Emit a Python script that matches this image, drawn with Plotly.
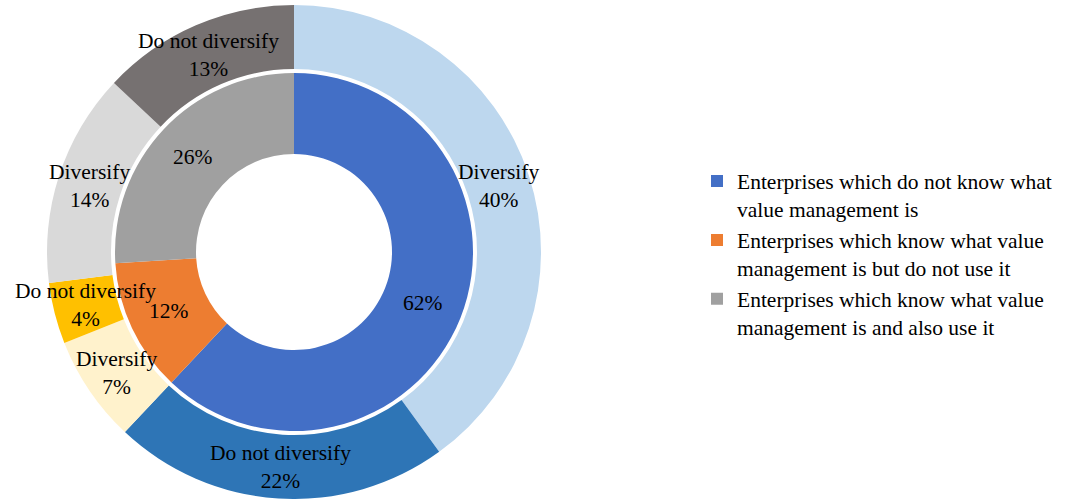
import math
import plotly.graph_objects as go

# ---------------- data ----------------
inner_labels = [
    "Enterprises which do not know what<br>value management is",
    "Enterprises which know what value<br>management is but do not use it",
    "Enterprises which know what value<br>management is and also use it",
]
inner_values = [62, 12, 26]

outer_labels = ["Diversify", "Do not diversify", "Diversify",
                "Do not diversify", "Diversify", "Do not diversify"]
outer_values = [40, 22, 7, 4, 14, 13]

# ---------------- styles ----------------
inner_colors = ["#436FC6", "#ED7D31", "#A0A0A0"]
outer_colors = ["#BDD7EE", "#2E75B6", "#FFF2CC", "#FFC000", "#D9D9D9", "#767171"]

W, H = 1065, 499
CX, CY = 294, 252            # pie centre in px (from top-left)
CYB = H - CY                 # centre measured from bottom
R_OUT, R_OUT_HOLE = 247, 183
R_IN, R_IN_HOLE = 179, 98
FONT = "Liberation Serif, Times New Roman, serif"
FS = 21.5
LFS = 21.5


def dom(r):
    return dict(x=[(CX - r) / W, (CX + r) / W], y=[(CYB - r) / H, (CYB + r) / H])


fig = go.Figure()
fig.add_trace(go.Pie(
    labels=[f"o{i}" for i in range(len(outer_values))],
    values=outer_values,
    domain=dom(R_OUT),
    hole=R_OUT_HOLE / R_OUT,
    sort=False, direction="clockwise", rotation=0,
    marker=dict(colors=outer_colors, line=dict(width=0)),
    textinfo="none", hoverinfo="skip", showlegend=False,
))
fig.add_trace(go.Pie(
    labels=inner_labels,
    values=inner_values,
    domain=dom(R_IN),
    hole=R_IN_HOLE / R_IN,
    sort=False, direction="clockwise", rotation=0,
    marker=dict(colors=inner_colors, line=dict(width=0)),
    textinfo="none", hoverinfo="skip", showlegend=True,
))


def add_labels(values, names, r_in, r_out):
    total = sum(values)
    cum = 0
    r = (r_in + r_out) / 2
    for v, n in zip(values, names):
        mid = (cum + v / 2) / total
        cum += v
        th = 2 * math.pi * mid
        x = (CX + r * math.sin(th)) / W
        y = (CYB + r * math.cos(th)) / H
        pct = f"{round(v / total * 100)}%"
        txt = f"{n}<br>{pct}" if n else pct
        fig.add_annotation(x=x, y=y, xref="paper", yref="paper", text=txt,
                           showarrow=False, xanchor="center", yanchor="middle",
                           font=dict(family=FONT, size=FS, color="#000000"))


add_labels(outer_values, outer_labels, R_OUT_HOLE, R_OUT)
add_labels(inner_values, [None] * len(inner_values), R_IN_HOLE, R_IN)

fig.update_layout(
    width=W, height=H,
    margin=dict(l=0, r=0, t=0, b=0, autoexpand=False),
    paper_bgcolor="white", plot_bgcolor="white",
    font=dict(family=FONT, size=FS, color="#000000"),
    legend=dict(x=697 / W, xanchor="left", y=(H - 254) / H, yanchor="middle",
                valign="top",
                font=dict(family=FONT, size=LFS, color="#000000"),
                bgcolor="rgba(0,0,0,0)"),
)

fig.write_html("out.html",
               config={"displayModeBar": False},
               post_script="document.body.style.margin='0';document.body.style.overflow='hidden';")
